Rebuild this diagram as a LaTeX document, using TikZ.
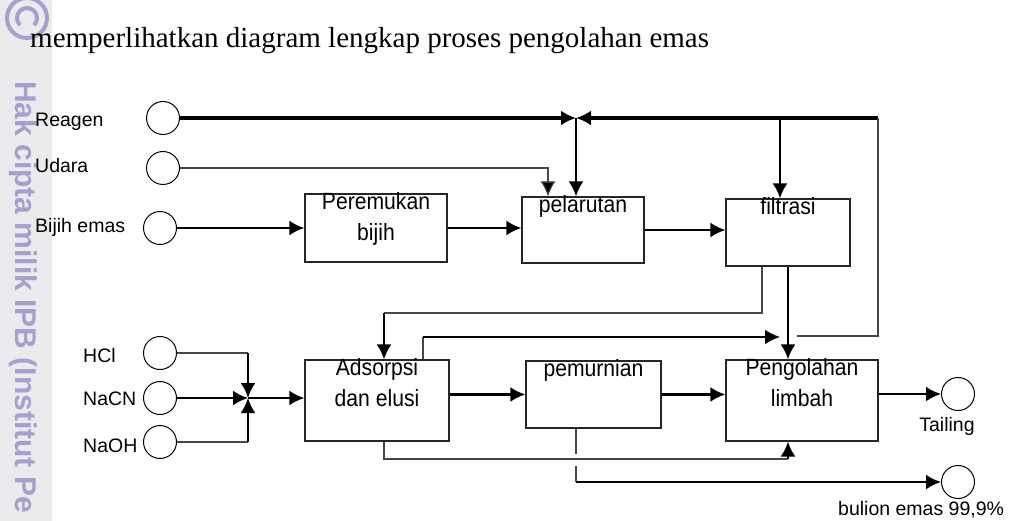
\documentclass[tikz,border=0pt]{standalone}
\usepackage{fontspec}
\setmainfont{Liberation Sans}
\newfontfamily\serifbody{Liberation Serif}
\newfontfamily\boxfont[FakeStretch=0.9]{Liberation Sans}
\usetikzlibrary{arrows.meta}
\definecolor{wmark}{RGB}{165,160,205}
\definecolor{band}{RGB}{235,235,237}
\definecolor{feedgray}{RGB}{70,70,70}
\tikzset{
	port/.style={draw, circle, minimum size=33pt, inner sep=0pt, line width=1pt},
	proc/.style={draw=black!85, line width=1.2pt, rectangle, inner sep=0pt},
	proctext/.style={align=center, anchor=north, inner sep=0pt, yshift=1pt, font=\boxfont\fontsize{23.5}{31}\selectfont},
	lbl/.style={anchor=base west, inner sep=0pt, font=\fontsize{19.5}{22}\selectfont},
	heavyline/.style={line width=4pt},
	flowline/.style={line width=2.4pt},
	feedline/.style={line width=1.2pt, draw=feedgray},
}
\begin{document}
\begin{tikzpicture}[x=1pt, y=-1pt, >={Latex[length=15pt,width=15pt]}]
		\useasboundingbox (0,0) rectangle (1020,521);
		\fill[band] (0,-10) rectangle (52,531);
		\draw[wmark, line width=4pt] (27,18) circle[radius=20];
		\draw[wmark, line width=4pt] (27,18) ++(135:10) arc[start angle=135, end angle=405, radius=10];
		\node[wmark, rotate=-90, anchor=base west, inner sep=0pt, font=\bfseries\fontsize{30}{30}\selectfont] (wm) at (15,81) {Hak cipta milik IPB (Institut Pe};
		\node[anchor=base west, inner sep=0pt, font=\serifbody\fontsize{29}{29}\selectfont] (intro) at (30,48) {memperlihatkan diagram lengkap proses pengolahan emas};

		\node[port] (reagen) at (163,118) {};
		\node[port] (udara) at (163,168) {};
		\node[port] (bijih) at (160,228) {};
		\node[port] (hcl) at (160,353) {};
		\node[port] (nacn) at (160,398) {};
		\node[port] (naoh) at (160,442) {};
		\node[port] (tailing) at (958,394) {};
		\node[port] (bulion) at (958,482) {};

		\node[lbl] (lreagen) at (35,127) {Reagen};
		\node[lbl] (ludara) at (35,173) {Udara};
		\node[lbl] (lbijih) at (35,233) {Bijih emas};
		\node[lbl] (lhcl) at (83,362) {HCl};
		\node[lbl] (lnacn) at (83,405) {NaCN};
		\node[lbl] (lnaoh) at (83,452) {NaOH};
		\node[lbl, anchor=base] (ltailing) at (947,431) {Tailing};
		\node[lbl] (lbulion) at (838,515) {bulion emas 99,9\%};

		\node[proc, minimum width=142pt, minimum height=68pt, label={[proctext]north:{Peremukan\\bijih}}] (peremukan) at (376,228) {};
		\node[proc, minimum width=122pt, minimum height=66pt, label={[proctext]north:{pelarutan}}] (pelarutan) at (583,230) {};
		\node[proc, minimum width=124pt, minimum height=67pt, label={[proctext]north:{filtrasi}}] (filtrasi) at (788,232.5) {};
		\node[proc, minimum width=144pt, minimum height=81pt, label={[proctext]north:{Adsorpsi\\dan elusi}}] (adsorpsi) at (377,400.5) {};
		\node[proc, minimum width=135pt, minimum height=67pt, label={[proctext]north:{pemurnian}}] (pemurnian) at (593.5,394.5) {};
		\node[proc, minimum width=152pt, minimum height=81pt, label={[proctext]north:{Pengolahan\\limbah}}] (pengolahan) at (802,400.5) {};

		\coordinate (jr) at (576,118);
		\coordinate (jtr) at (878,118);
		\coordinate (jn) at (248,398);
		\coordinate (ret) at (797,336);
		\coordinate (rc) at (780,337);
		\coordinate (split) at (384,313);
		\coordinate (under) at (788,459);
		\coordinate (ftop) at ([xshift=-8pt]filtrasi.north);
		\coordinate (fl) at ([xshift=-26pt]filtrasi.south);
		\coordinate (atop) at ([xshift=7pt]adsorpsi.north);
		\coordinate (aout) at ([xshift=46pt]adsorpsi.north);
		\coordinate (abot) at ([xshift=7pt]adsorpsi.south);
		\coordinate (lbot) at ([xshift=-14pt]pengolahan.south);
		\coordinate (pbot) at ([xshift=-17.5pt]pemurnian.south);

		\draw[heavyline,->] (reagen.east) -- (jr);
		\draw[heavyline,->] (jtr) -- (jr);
		\draw[flowline,->] (jr) -- (jr |- pelarutan.north);
		\draw[flowline,->] (ftop |- jtr) -- (ftop);
		\draw[feedline,->,-{Latex[length=15pt,width=15pt,fill=black]}] (udara.east) -| ([xshift=-35pt]pelarutan.north);
		\draw[flowline,->] (bijih.east) -- (peremukan.west);
		\draw[flowline,->] (peremukan.east) -- (peremukan.east -| pelarutan.west);
		\draw[flowline,->] (pelarutan.east) -- (pelarutan.east -| filtrasi.west);

		\draw[feedline] (fl) |- (split);
		\draw[flowline,->] (split) -- (atop);
		\draw[flowline,->] (filtrasi.south) -- (filtrasi.south |- pengolahan.north);
		\draw[feedline] (aout) -- (aout |- rc);
		\draw[flowline,->] (aout |- rc) -- (rc);
		\draw[feedline] (ret) -| (jtr);

		\draw[feedline] (hcl.east) -- (hcl.east -| jn);
		\draw[flowline,->] (hcl.east -| jn) -- (jn);
		\draw[feedline] (naoh.east) -- (naoh.east -| jn);
		\draw[flowline,->] (naoh.east -| jn) -- (jn);
		\draw[flowline,->] (nacn.east) -- (jn);
		\draw[flowline,->] (jn) -- (jn -| adsorpsi.west);

		\draw[flowline,->] (adsorpsi.east |- pemurnian.west) -- (pemurnian.west);
		\draw[flowline,->] (pemurnian.east) -- (pemurnian.east -| pengolahan.west);
		\draw[flowline,->] (pengolahan.east |- tailing.west) -- (tailing.west);

		\draw[feedline] (abot) |- (under);
		\draw[flowline,->] (under) -- (lbot);
		\draw[feedline] (pbot) -- ++(0,25);
		\draw[feedline] (pbot |- bulion) -- ++(0,-16);
		\draw[flowline,->] (pbot |- bulion) -- (bulion.west);
	\end{tikzpicture}
\end{document}
